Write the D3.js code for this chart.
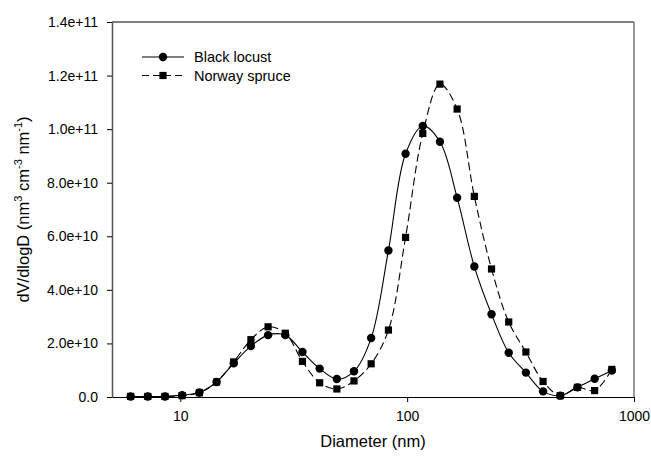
<!DOCTYPE html>
<html>
<head>
<meta charset="utf-8">
<script src="https://cdn.jsdelivr.net/npm/d3@7"></script>
<style>
  body { margin: 0; background: #fff; }
  text { font-family: Arial, "Liberation Sans", sans-serif; fill: #000; }
</style>
</head>
<body>
<div id="root"></div>
<script>
// diameters (nm)
var diameters = [6.04, 7.19, 8.56, 10.19, 12.14, 14.45, 17.2, 20.48, 24.38, 29.03, 34.56, 41.15, 49.0, 58.3,
    69.4, 82.7, 98.4, 117.2, 139.5, 166.1, 197.8, 235.5, 280.4, 333.8, 397.4, 473.2, 563.4, 670.7, 798.6]
// dV/dlogD in units of 1e10
var blackLocust = [0.02, 0.02, 0.02, 0.07, 0.17, 0.56, 1.26, 1.9, 2.31, 2.31, 1.68, 1.06, 0.67, 0.96,
    2.2, 5.47, 9.08, 10.12, 9.53, 7.44, 4.87, 3.09, 1.65, 0.91, 0.21, 0.05, 0.36, 0.68, 0.99]
var norwaySpruce = [0.02, 0.02, 0.02, 0.05, 0.16, 0.56, 1.31, 2.14, 2.62, 2.38, 1.33, 0.53, 0.3, 0.6,
    1.24, 2.5, 5.96, 9.84, 11.68, 10.75, 7.49, 4.78, 2.8, 1.68, 0.58, 0.05, 0.36, 0.24, 1.03]
var seriesNames = ["Black locust", "Norway spruce"]
var yTicks = [0, 2e10, 4e10, 6e10, 8e10, 1e11, 1.2e11, 1.4e11]
var xTicks = [10, 100, 1000]

var width = 651, height = 458
var margin = { top: 22, right: 17, bottom: 61, left: 112 }

var svg = d3.select("#root").append("svg")
    .attr("width", width)
    .attr("height", height)

var x = d3.scaleLog().domain([5, 1000]).range([margin.left, width - margin.right])
var y = d3.scaleLinear().domain([0, 1.4e11]).range([height - margin.bottom, margin.top])

// frame top + right
svg.append("line")
    .attr("x1", margin.left).attr("x2", width - margin.right)
    .attr("y1", margin.top).attr("y2", margin.top)
    .attr("stroke", "#000").attr("stroke-width", 1.2)
svg.append("line")
    .attr("x1", width - margin.right).attr("x2", width - margin.right)
    .attr("y1", margin.top).attr("y2", height - margin.bottom)
    .attr("stroke", "#777").attr("stroke-width", 1.5)

// y axis
var yAxis = d3.axisLeft(y)
    .tickValues(yTicks)
    .tickSize(5)
    .tickSizeOuter(0)
    .tickPadding(9)
    .tickFormat(function (d) { return d === 0 ? "0.0" : d3.format(".1e")(d) })
var gy = svg.append("g")
    .attr("transform", "translate(" + margin.left + ",0)")
    .call(yAxis)
gy.select(".domain").attr("stroke", "#555").attr("stroke-width", 1.5)
gy.selectAll(".tick line").attr("stroke", "#000")
gy.selectAll("text").attr("font-size", 14).attr("font-family", "Arial, 'Liberation Sans', sans-serif")

// x axis
var xAxis = d3.axisBottom(x)
    .tickValues(xTicks)
    .tickSize(5)
    .tickSizeOuter(0)
    .tickPadding(9)
    .tickFormat(d3.format("d"))
var gx = svg.append("g")
    .attr("transform", "translate(0," + (height - margin.bottom) + ")")
    .call(xAxis)
gx.select(".domain").attr("stroke", "#000").attr("stroke-width", 1.2)
gx.selectAll("text").attr("font-size", 14).attr("font-family", "Arial, 'Liberation Sans', sans-serif")

// axis titles
svg.append("text")
    .attr("x", (margin.left + width - margin.right) / 2)
    .attr("y", 447)
    .attr("text-anchor", "middle")
    .attr("font-size", 16.5)
    .text("Diameter (nm)")

var yt = svg.append("text")
    .attr("transform", "translate(29," + (margin.top + height - margin.bottom) / 2 + ") rotate(-90)")
    .attr("text-anchor", "middle")
    .attr("font-size", 16.5)
yt.append("tspan").text("dV/dlogD (nm")
yt.append("tspan").attr("font-size", 11).attr("dy", -7).text("3")
yt.append("tspan").attr("dy", 7).text(" cm")
yt.append("tspan").attr("font-size", 11).attr("dy", -7).text("-3")
yt.append("tspan").attr("dy", 7).text(" nm")
yt.append("tspan").attr("font-size", 11).attr("dy", -7).text("-1")
yt.append("tspan").attr("dy", 7).text(")")

// series
var series = [
    { name: seriesNames[0], values: blackLocust, dash: null, shape: "circle" },
    { name: seriesNames[1], values: norwaySpruce, dash: "8,4", shape: "square" }
]

var line = d3.line()
    .x(function (d) { return x(d[0]) })
    .y(function (d) { return y(d[1] * 1e10) })
    .curve(d3.curveCatmullRom.alpha(0.5))

series.forEach(function (s) {
    var pts = diameters.map(function (d, i) { return [d, s.values[i]] })
    svg.append("path")
        .datum(pts)
        .attr("fill", "none")
        .attr("stroke", "#000")
        .attr("stroke-width", 1.1)
        .attr("stroke-dasharray", s.dash)
        .attr("d", line)

    var g = svg.append("g")
    if (s.shape === "circle") {
        g.selectAll("circle").data(pts).enter().append("circle")
            .attr("cx", function (d) { return x(d[0]) })
            .attr("cy", function (d) { return y(d[1] * 1e10) })
            .attr("r", 4.2)
            .attr("fill", "#000")
    } else {
        g.selectAll("rect").data(pts).enter().append("rect")
            .attr("x", function (d) { return x(d[0]) - 3.6 })
            .attr("y", function (d) { return y(d[1] * 1e10) - 3.6 })
            .attr("width", 7.2)
            .attr("height", 7.2)
            .attr("fill", "#000")
    }
})

// legend
var legend = svg.append("g")
series.forEach(function (s, i) {
    var ly = 57 + i * 18.5
    legend.append("line")
        .attr("x1", 142).attr("x2", 184)
        .attr("y1", ly).attr("y2", ly)
        .attr("stroke", "#000").attr("stroke-width", 1.1)
        .attr("stroke-dasharray", s.dash ? "7,4" : null)
    if (s.shape === "circle") {
        legend.append("circle").attr("cx", 163).attr("cy", ly).attr("r", 4.2).attr("fill", "#000")
    } else {
        legend.append("rect").attr("x", 159.4).attr("y", ly - 3.6).attr("width", 7.2).attr("height", 7.2).attr("fill", "#000")
    }
    legend.append("text")
        .attr("x", 194)
        .attr("y", ly + 5)
        .attr("font-size", 14.5)
        .text(s.name)
})
</script>
</body>
</html>
